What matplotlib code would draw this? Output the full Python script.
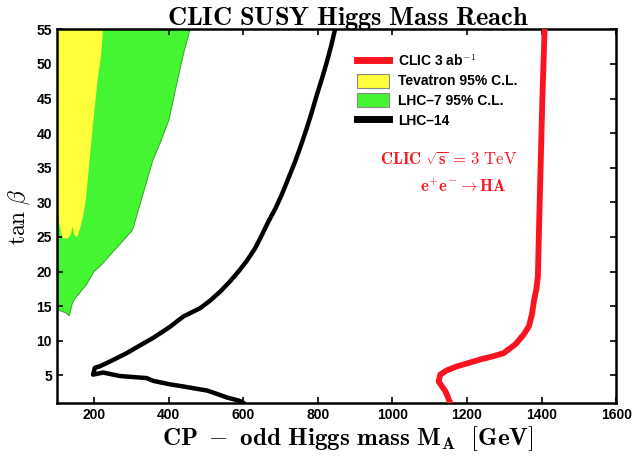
import numpy as np
import matplotlib
matplotlib.use("Agg")
import matplotlib.pyplot as plt
from matplotlib.patches import Patch
from matplotlib.lines import Line2D

plt.rcParams['mathtext.fontset'] = 'cm'

# Tevatron 95% C.L. excluded region (polygon, M_A [GeV], tan beta)
tev_x = [100, 224, 218, 210, 200, 191, 184, 178, 172, 164, 155, 147, 142, 137, 130, 115, 106, 101, 100]
tev_y = [55, 55, 51, 48, 43, 38, 34, 30.5, 28.5, 26.6, 25, 25.2, 26.5, 25.3, 24.8, 24.8, 27, 30, 30]

# LHC-7 95% C.L. excluded region
lhc7_x = [100, 457, 450, 442, 425, 401, 380, 357, 330, 303, 275, 245, 220, 200, 178, 150, 142, 133, 125, 110, 100]
lhc7_y = [55, 55, 53.5, 52, 48, 42, 39, 36, 31, 26, 24.3, 22.5, 21, 20, 18, 16.2, 15.5, 13.6, 14, 14.3, 14.5]

# LHC-14 reach contour
lhc14_x = [846, 836, 824, 811, 797, 784, 770, 755, 739, 721, 703, 686, 667, 650, 632, 610, 587, 563, 538,
           511, 484, 439, 403, 358, 322, 287, 250, 215, 202,
           197, 224, 269, 341, 358, 403, 438, 470, 503, 530, 556, 591, 600]
lhc14_y = [55, 52.7, 50.3, 47.9, 45.5, 43.1, 40.7, 38.3, 35.9, 33.5, 31.1, 29.1, 27.2, 25.3, 23.4, 21.6, 20.0,
           18.5, 17.1, 15.8, 14.7, 13.5, 12.0, 10.4, 9.3, 8.2, 7.2, 6.3, 6.1,
           5.1, 5.4, 4.9, 4.6, 4.2, 3.7, 3.4, 3.1, 2.8, 2.3, 1.8, 1.3, 1.0]

# CLIC 3 ab^-1 reach
clic_x = [1408, 1402, 1395, 1392, 1390, 1386, 1380, 1374, 1366, 1352, 1330, 1298, 1266, 1236, 1205, 1173, 1145,
          1128, 1124, 1134, 1142, 1155]
clic_y = [55, 45, 30.4, 24, 19.3, 17.5, 15.9, 13.8, 12.1, 10.9, 9.5, 8.2, 7.7, 7.3, 6.8, 6.3, 5.7,
          5.1, 4.1, 3.3, 2.7, 1.0]

x_ticks = [200, 400, 600, 800, 1000, 1200, 1400, 1600]
y_ticks = [5, 10, 15, 20, 25, 30, 35, 40, 45, 50, 55]

red = '#fa1420'
yellow = '#ffff3c'
green = '#44f532'

fig = plt.figure(figsize=(6.32, 4.59), dpi=100)
ax = fig.add_axes([0.090, 0.122, 0.885, 0.814])

ax.fill(lhc7_x, lhc7_y, color=green, edgecolor='#2a9a20', linewidth=0.6, zorder=1)
ax.fill(tev_x, tev_y, color=yellow, edgecolor='none', zorder=2)
ax.plot(lhc14_x, lhc14_y, color='black', linewidth=3.2, solid_joinstyle='round', zorder=3)
ax.plot(clic_x, clic_y, color=red, linewidth=4.2, solid_joinstyle='round', zorder=3)

ax.set_xlim(100, 1600)
ax.set_ylim(1, 55)
ax.set_xticks(x_ticks)
ax.set_yticks(y_ticks)
ax.tick_params(direction='in', top=True, right=True, length=4, width=1.2, labelsize=10)
for lab in ax.get_xticklabels() + ax.get_yticklabels():
    lab.set_family('Liberation Sans')
    lab.set_fontweight('bold')
for sp in ax.spines.values():
    sp.set_linewidth(1.8)

ax.set_title(r'$\mathbf{CLIC\ SUSY\ Higgs\ Mass\ Reach}$', fontsize=19, pad=3, x=0.52)
ax.set_xlabel(r'$\mathbf{CP\ -\ odd\ Higgs\ mass\ M_A\ \ [GeV]}$', fontsize=18, labelpad=1)
ax.xaxis.set_label_coords(0.52, -0.058)
ax.set_ylabel(r'$\mathrm{tan}\ \beta$', fontsize=17, labelpad=3)

handles = [
    Line2D([0], [0], color=red, linewidth=5),
    Patch(facecolor=yellow, edgecolor='#888888', linewidth=0.8),
    Patch(facecolor=green, edgecolor='#888888', linewidth=0.8),
    Line2D([0], [0], color='black', linewidth=5),
]
labels = [r'CLIC 3 ab$^{\mathbf{-1}}$', 'Tevatron 95% C.L.', 'LHC\u20137 95% C.L.', 'LHC\u201314']
leg = ax.legend(handles, labels, loc='upper left', bbox_to_anchor=(0.515, 0.97), frameon=False,
                prop={'family': 'Liberation Sans', 'weight': 'bold', 'size': 10},
                handlelength=2.3, handleheight=1.2, labelspacing=0.35, handletextpad=0.6)

ax.text(1150, 36.1, r'$\mathbf{CLIC}\ \sqrt{\mathbf{s}}\mathbf{\,=\,3}\ \mathrm{TeV}$', color=red,
        fontsize=12, ha='center', va='center')
ax.text(1190, 32.2, r'$\mathbf{e^{+}e^{-}\rightarrow HA}$', color=red,
        fontsize=12, ha='center', va='center')

fig.savefig('out.png', dpi=100)
